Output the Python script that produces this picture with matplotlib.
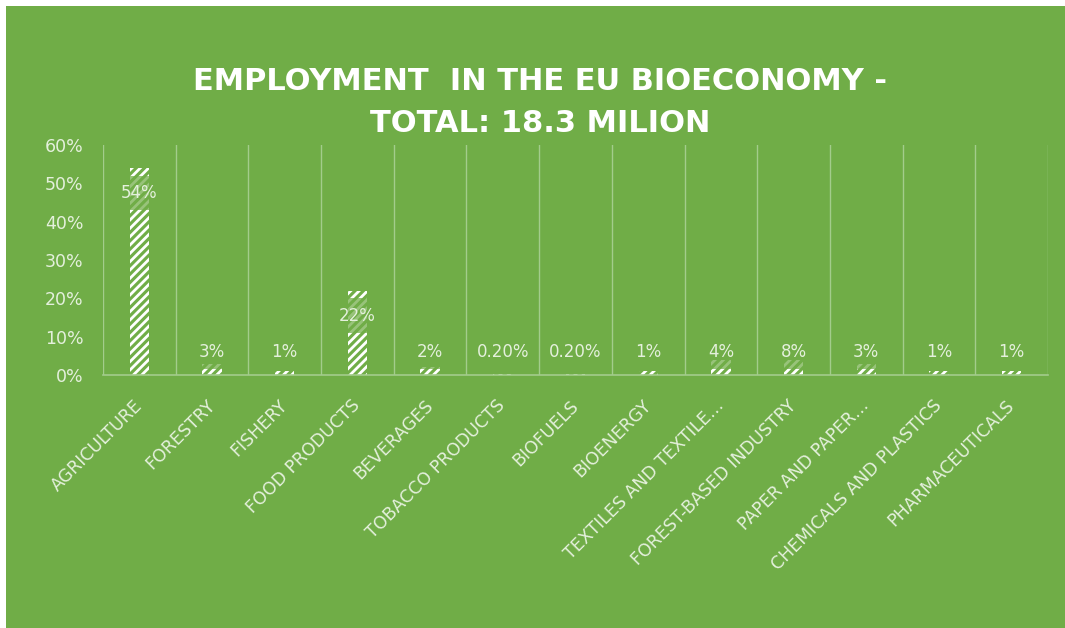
import matplotlib
matplotlib.use("Agg")
import matplotlib.pyplot as plt
from matplotlib.patches import Rectangle

categories = ["AGRICULTURE", "FORESTRY", "FISHERY", "FOOD PRODUCTS", "BEVERAGES",
              "TOBACCO PRODUCTS", "BIOFUELS", "BIOENERGY", "TEXTILES AND TEXTILE…",
              "FOREST-BASED INDUSTRY", "PAPER AND PAPER…", "CHEMICALS AND PLASTICS",
              "PHARMACEUTICALS"]
values = [0.54, 0.03, 0.01, 0.22, 0.02, 0.002, 0.002, 0.01, 0.04, 0.04, 0.03, 0.01, 0.01]
value_labels = ["54%", "3%", "1%", "22%", "2%", "0.20%", "0.20%", "1%", "4%", "8%", "3%", "1%", "1%"]
y_ticks = [0.0, 0.1, 0.2, 0.3, 0.4, 0.5, 0.6]
y_tick_labels = ["0%", "10%", "20%", "30%", "40%", "50%", "60%"]
title_lines = ["EMPLOYMENT  IN THE EU BIOECONOMY -", "TOTAL: 18.3 MILION"]

GREEN = "#70ad47"
GRID = "#a3cc8c"
TXT = "#e4f0dc"

plt.rcParams['font.family'] = ['DejaVu Sans']
plt.rcParams['hatch.linewidth'] = 2.0

W, H = 1065, 628
fig = plt.figure(figsize=(W / 100, H / 100), dpi=100)
fig.patch.set_facecolor("white")
fig.patches.append(Rectangle((6 / W, -0.01), 1.02 - 6 / W, 1.01 - 6 / H, transform=fig.transFigure,
                             facecolor=GREEN, edgecolor="none", zorder=-10))

left, right, top, bottom = 103, 1048, 145, 375
ax = fig.add_axes([left / W, (H - bottom) / H, (right - left) / W, (bottom - top) / H])
ax.set_facecolor("none")

x = list(range(len(categories)))
ax.bar(x, values, width=0.265, color=GREEN, edgecolor="white", linewidth=0,
       hatch="////", zorder=1)

for i in range(len(categories) + 1):
    ax.axvline(i - 0.5, color=GRID, lw=1, zorder=0)

ax.set_xlim(-0.5, len(categories) - 0.5)
ax.set_ylim(0, 0.6)

for s in ["top", "left", "right"]:
    ax.spines[s].set_visible(False)
ax.spines["bottom"].set_color(GRID)
ax.spines["bottom"].set_linewidth(1.2)

ax.set_yticks(y_ticks)
ax.set_yticklabels(y_tick_labels, fontsize=12.5, color=TXT)
ax.tick_params(axis="y", length=0, pad=14)

ax.set_xticks(x)
ax.set_xticklabels(categories, rotation=45, ha="right", rotation_mode="anchor",
                   fontsize=12.5, color=TXT, va="center")
ax.tick_params(axis="x", length=0, pad=20)

for i, (v, lab) in enumerate(zip(values, value_labels)):
    ly = max(v - 0.065, 0.06)
    ax.text(i, ly, lab, ha="center", va="center", fontsize=12, color=TXT, zorder=3,
            bbox=dict(boxstyle="square,pad=0.5", fc=GREEN, ec="none", alpha=0.72))

fig.text(540 / W, 1 - 82 / H, title_lines[0], ha="center", va="center",
         fontsize=22, fontweight="bold", color="white")
fig.text(540 / W, 1 - 124 / H, title_lines[1], ha="center", va="center",
         fontsize=22, fontweight="bold", color="white")

fig.savefig("out.png", dpi=100, facecolor=fig.get_facecolor())
